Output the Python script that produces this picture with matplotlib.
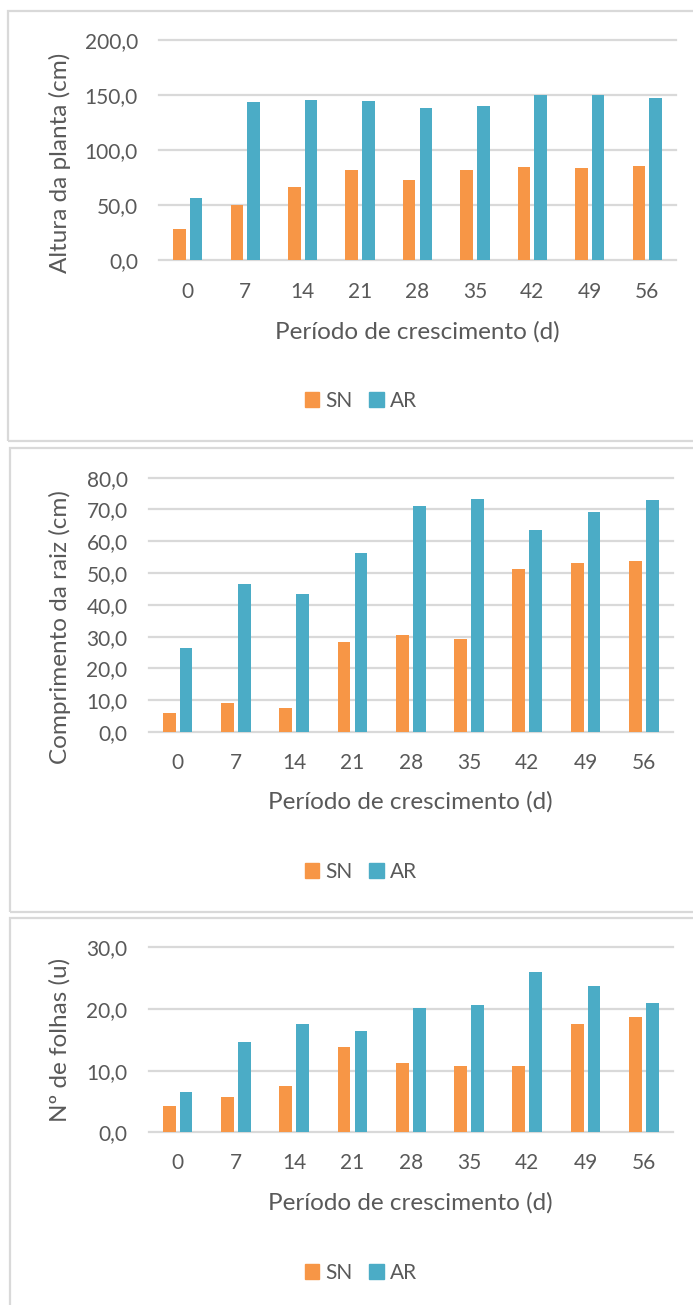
import matplotlib
matplotlib.use("Agg")
import matplotlib.pyplot as plt
from matplotlib.patches import Rectangle, Patch
from matplotlib.ticker import FuncFormatter
import numpy as np

plt.rcParams['font.family'] = ['Lato', 'DejaVu Sans']

days = ["0", "7", "14", "21", "28", "35", "42", "49", "56"]
series_names = ["SN", "AR"]

altura_sn = [28.2, 50.3, 66.4, 82.1, 73.0, 81.5, 84.5, 83.6, 85.8]
altura_ar = [56.4, 143.6, 145.8, 144.8, 138.2, 140.3, 150.3, 150.3, 147.3]

raiz_sn = [6.0, 9.1, 7.4, 28.3, 30.5, 29.2, 51.2, 53.2, 53.7]
raiz_ar = [26.5, 46.6, 43.3, 56.3, 71.2, 73.4, 63.4, 69.3, 72.9]

folhas_sn = [4.2, 5.7, 7.5, 13.9, 11.2, 10.8, 10.8, 17.5, 18.7]
folhas_ar = [6.5, 14.6, 17.5, 16.4, 20.2, 20.6, 26.0, 23.8, 20.9]

y_labels = ["Altura da planta (cm)", "Comprimento da raiz (cm)", "Nº de folhas (u)"]
x_label = "Período de crescimento (d)"
y_ticks = [[0, 50, 100, 150, 200], [0, 10, 20, 30, 40, 50, 60, 70, 80], [0, 10, 20, 30]]

C_SN = "#F79646"
C_AR = "#4BACC6"
GRID = "#D9D9D9"
TXT = "#595959"

W, H = 693, 1305
fig = plt.figure(figsize=(W / 100, H / 100), dpi=100)

def fx(x):
    return x / W

def fy(y):
    return 1 - y / H

# panel frames (pixel coords: left, top, right, bottom)
frames = [(8, 11, 705, 441), (10, 448, 705, 912), (10, 918, 705, 1320)]
for (l, t, r, b) in frames:
    fig.patches.append(Rectangle((fx(l), fy(b)), fx(r - l), (b - t) / H,
                                 transform=fig.transFigure, fill=False,
                                 edgecolor=GRID, linewidth=1.6, zorder=0))

# axes: left, top, right, bottom (pixels)
axes_px = [(159, 40, 676, 260), (148.5, 477.7, 673, 732), (148.5, 947.3, 673, 1132.3)]
tick_y = [292, 763, 1163]
xlabel_y = [331.7, 801.7, 1202.7]
ylabel_c = [(60, 162.5), (60, 627.5), (60, 1040)]
legend_y = [401, 872, 1272.7]

data = [(altura_sn, altura_ar), (raiz_sn, raiz_ar), (folhas_sn, folhas_ar)]

x = np.arange(len(days))
bw = 0.22
off = 0.145

for i, ((l, t, r, b), (sn, ar)) in enumerate(zip(axes_px, data)):
    ax = fig.add_axes([fx(l), fy(b), fx(r - l), (b - t) / H])
    ax.set_facecolor("none")
    ax.bar(x - off, sn, width=bw, color=C_SN, zorder=3, label=series_names[0])
    ax.bar(x + off, ar, width=bw, color=C_AR, zorder=3, label=series_names[1])
    ax.set_xlim(-0.5, len(days) - 0.5)
    ax.set_ylim(y_ticks[i][0], y_ticks[i][-1])
    ax.set_yticks(y_ticks[i])
    ax.yaxis.set_major_formatter(FuncFormatter(lambda v, p: f"{v:.1f}".replace(".", ",")))
    ax.set_xticks(x)
    ax.set_xticklabels(days)
    for s in ["top", "right", "left", "bottom"]:
        ax.spines[s].set_visible(False)
    ax.grid(axis="y", color=GRID, linewidth=1.6, zorder=0)
    for gl in ax.get_ygridlines():
        gl.set_clip_on(False)
    ax.tick_params(axis="both", length=0, labelsize=15, colors=TXT)
    pad_x = (tick_y[i] - b) - 10
    ax.tick_params(axis="x", pad=pad_x * 0.72)
    ax.tick_params(axis="y", pad=21 * 0.72)
    ax.set_xlabel(x_label, fontsize=17.5, color=TXT, va="center", ha="center")
    ax.xaxis.set_label_coords(fx((l + r) / 2), fy(xlabel_y[i]), transform=fig.transFigure)
    ax.set_ylabel(y_labels[i], fontsize=17.5, color=TXT, va="center", ha="center")
    ax.yaxis.set_label_coords(fx(ylabel_c[i][0]), fy(ylabel_c[i][1]), transform=fig.transFigure)
    handles = [Patch(color=C_SN, label=series_names[0]), Patch(color=C_AR, label=series_names[1])]
    ax.legend(handles=handles, loc="center", bbox_to_anchor=(fx(361), fy(legend_y[i])),
              bbox_transform=fig.transFigure, ncol=2, frameon=False, fontsize=15,
              handlelength=0.7, handleheight=0.7, handletextpad=0.3, columnspacing=0.8,
              labelcolor=TXT)

fig.savefig("out.png", dpi=100)
